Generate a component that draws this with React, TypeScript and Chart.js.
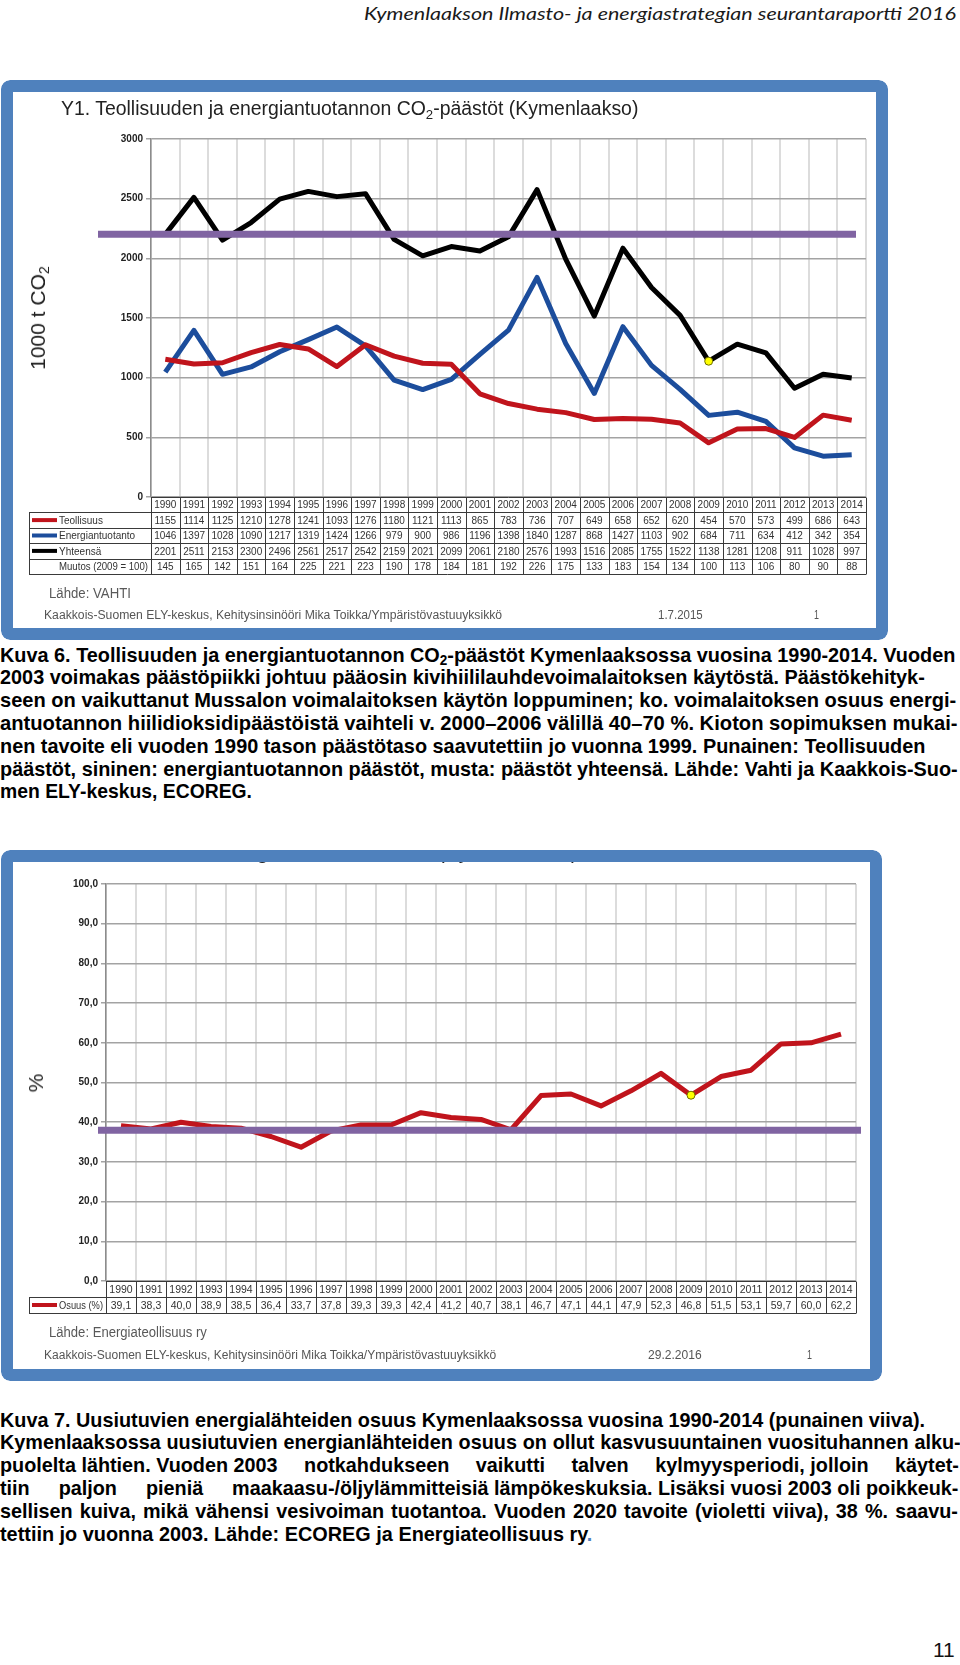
import React, { useEffect, useLayoutEffect, useRef } from "react";
import { Chart, registerables } from "chart.js";
Chart.register(...registerables);

// ---------- DATA ----------
const years = ["1990","1991","1992","1993","1994","1995","1996","1997","1998","1999","2000","2001","2002","2003","2004","2005","2006","2007","2008","2009","2010","2011","2012","2013","2014"];
const teollisuus = [1155,1114,1125,1210,1278,1241,1093,1276,1180,1121,1113,865,783,736,707,649,658,652,620,454,570,573,499,686,643];
const energiantuotanto = [1046,1397,1028,1090,1217,1319,1424,1266,979,900,986,1196,1398,1840,1287,868,1427,1103,902,684,711,634,412,342,354];
const yhteensa = [2201,2511,2153,2300,2496,2561,2517,2542,2159,2021,2099,2061,2180,2576,1993,1516,2085,1755,1522,1138,1281,1208,911,1028,997];
const muutos = [145,165,142,151,164,225,221,223,190,178,184,181,192,226,175,133,183,154,134,100,113,106,80,90,88];
const osuus = [39.1,38.3,40.0,38.9,38.5,36.4,33.7,37.8,39.3,39.3,42.4,41.2,40.7,38.1,46.7,47.1,44.1,47.9,52.3,46.8,51.5,53.1,59.7,60.0,62.2];
const co2Target = 2201;
const renewTarget = 38;
const co2Axis = { min: 0, max: 3000, step: 500 };
const shareAxis = { min: 0, max: 100, step: 10 };
const highlightYear = "2009";

// ---------- STYLE ----------
const BLUE_FRAME = "#4f81bd";
const RED = "#c0141c";
const BLUE = "#1c4d9c";
const PURPLE = "#8064a2";
const YELLOW = "#ffff00";
const SANS = '"Liberation Sans", Arial, Helvetica, sans-serif';
const NARROW = '"Liberation Sans Narrow", "Arial Narrow", "Liberation Sans", Arial, sans-serif';

const fmtComma = (v: number) => v.toFixed(1).replace(".", ",");

// ---------- PLUGINS ----------
const targetLinePlugin = {
  id: "targetLine",
  afterDatasetsDraw(chart: any, _a: any, opts: any) {
    const { ctx, chartArea } = chart;
    const y = chart.scales.y.getPixelForValue(opts.value);
    ctx.save();
    ctx.strokeStyle = opts.color;
    ctx.lineWidth = opts.width;
    ctx.beginPath();
    ctx.moveTo(chartArea.left + opts.start, y);
    ctx.lineTo(chartArea.right + opts.end, y);
    ctx.stroke();
    ctx.restore();
  },
};

const tablePlugin = {
  id: "dataTable",
  afterDraw(chart: any, _a: any, opts: any) {
    const { ctx, chartArea } = chart;
    const xs = chart.scales.x;
    const labels: string[] = chart.data.labels;
    const n = labels.length;
    const centers = labels.map((_: string, i: number) => xs.getPixelForValue(i));
    const colW = centers[1] - centers[0];
    const left = centers[0] - colW / 2;
    const right = centers[n - 1] + colW / 2;
    const top = chartArea.bottom;
    const rh = opts.rowHeight;
    const rows = opts.rows;
    const bottom = top + rh * (rows.length + 1);
    ctx.save();
    ctx.strokeStyle = opts.lineColor;
    ctx.lineWidth = 1;
    const hl = (x1: number, x2: number, y: number) => {
      const yy = Math.round(y) + 0.5;
      ctx.beginPath(); ctx.moveTo(x1, yy); ctx.lineTo(x2, yy); ctx.stroke();
    };
    const vl = (x: number, y1: number, y2: number) => {
      const xx = Math.round(x) + 0.5;
      ctx.beginPath(); ctx.moveTo(xx, Math.round(y1) + 0.5); ctx.lineTo(xx, Math.round(y2) + 0.5); ctx.stroke();
    };
    hl(left, right, top);
    for (let i = 1; i <= rows.length + 1; i++) hl(opts.labelLeft, right, top + i * rh);
    for (let j = 0; j <= n; j++) vl(left + j * colW, top, bottom);
    vl(opts.labelLeft, top + rh, bottom);

    ctx.fillStyle = opts.textColor;
    ctx.font = opts.font;
    ctx.textAlign = "center";
    ctx.textBaseline = "middle";
    labels.forEach((l: string, i: number) => ctx.fillText(l, centers[i], top + rh / 2 + 1));
    rows.forEach((r: any, k: number) => {
      const yc = top + rh * (k + 1) + rh / 2 + 1;
      ctx.textAlign = "center";
      r.values.forEach((v: number, i: number) => ctx.fillText(r.format ? r.format(v) : String(v), centers[i], yc));
      if (r.color) {
        ctx.save();
        ctx.strokeStyle = r.color;
        ctx.lineWidth = 4;
        ctx.beginPath();
        ctx.moveTo(opts.swatchLeft, yc - 1);
        ctx.lineTo(opts.swatchRight, yc - 1);
        ctx.stroke();
        ctx.restore();
      }
      ctx.textAlign = "left";
      ctx.fillText(r.label, opts.textLeft, yc, left - opts.textLeft - 3);
    });
    ctx.restore();
  },
};

function lineDs(label: string, data: number[], color: string, highlight = false) {
  return {
    label,
    data,
    borderColor: color,
    backgroundColor: color,
    borderWidth: 5,
    tension: 0,
    borderJoinStyle: "round",
    borderCapStyle: "butt",
    pointRadius: (c: any) => (highlight && years[c.dataIndex] === highlightYear ? 4 : 0),
    pointHoverRadius: 0,
    pointBackgroundColor: YELLOW,
    pointBorderColor: "#6e6e00",
    pointBorderWidth: 1,
  };
}

function makeScales(yAxisWidth: number, axis: { min: number; max: number; step: number }, fmt?: (v: number) => string) {
  return {
    x: {
      type: "category",
      offset: true,
      grid: { offset: true, color: "#dcdcdc", lineWidth: 2, drawTicks: false },
      border: { display: false },
      ticks: { display: false },
      afterFit: (s: any) => { s.height = 0; },
    },
    y: {
      min: axis.min,
      max: axis.max,
      ticks: {
        stepSize: axis.step,
        color: "#222",
        padding: 3,
        font: { family: SANS, size: 10, weight: "bold" },
        callback: (v: any) => (fmt ? fmt(Number(v)) : String(v)),
      },
      grid: { color: "#a3a3a3", lineWidth: 1.5, tickLength: 5 },
      border: { color: "#8c8c8c", width: 1.5 },
      afterFit: (s: any) => { s.width = yAxisWidth; },
    },
  };
}

const config1: any = {
  type: "line",
  data: {
    labels: years,
    datasets: [
      lineDs("Teollisuus", teollisuus, RED),
      lineDs("Energiantuotanto", energiantuotanto, BLUE),
      lineDs("Yhteensä", yhteensa, "#000000", true),
    ],
  },
  options: {
    responsive: false,
    animation: false,
    events: [],
    layout: { padding: { left: 0, right: 22, top: 59, bottom: 143 } },
    plugins: {
      legend: { display: false },
      tooltip: { enabled: false },
      targetLine: { value: co2Target, start: -53, end: -10, width: 7, color: PURPLE },
      dataTable: {
        rowHeight: 15.4,
        labelLeft: 28,
        swatchLeft: 31,
        swatchRight: 56,
        textLeft: 58,
        lineColor: "#3a3a3a",
        textColor: "#333",
        font: `10px ${SANS}`,
        rows: [
          { label: "Teollisuus", color: RED, values: teollisuus },
          { label: "Energiantuotanto", color: BLUE, values: energiantuotanto },
          { label: "Yhteensä", color: "#000", values: yhteensa },
          { label: "Muutos (2009 = 100)", values: muutos },
        ],
      },
    },
    scales: makeScales(150, co2Axis),
  },
  plugins: [targetLinePlugin, tablePlugin],
};

const config2: any = {
  type: "line",
  data: {
    labels: years,
    datasets: [lineDs("Osuus (%)", osuus, RED, true)],
  },
  options: {
    responsive: false,
    animation: false,
    events: [],
    layout: { padding: { left: 0, right: 26, top: 34, bottom: 100 } },
    plugins: {
      legend: { display: false },
      tooltip: { enabled: false },
      targetLine: { value: renewTarget, start: -8, end: 5, width: 7, color: PURPLE },
      dataTable: {
        rowHeight: 16,
        labelLeft: 28,
        swatchLeft: 31,
        swatchRight: 56,
        textLeft: 58,
        lineColor: "#3a3a3a",
        textColor: "#333",
        font: `10.5px ${SANS}`,
        rows: [{ label: "Osuus (%)", color: RED, values: osuus, format: fmtComma }],
      },
    },
    scales: makeScales(105, shareAxis, fmtComma),
  },
  plugins: [targetLinePlugin, tablePlugin],
};

// ---------- COMPONENTS ----------
function ChartCanvas({ width, height, config }: { width: number; height: number; config: any }) {
  const ref = useRef<HTMLCanvasElement>(null);
  useEffect(() => {
    const chart = new Chart(ref.current as HTMLCanvasElement, config);
    return () => chart.destroy();
  }, [config]);
  return (
    <canvas
      ref={ref}
      width={width}
      height={height}
      style={{ position: "absolute", left: 0, top: 0, width, height, zIndex: 0 }}
    />
  );
}

type FitProps = {
  x: number; y: number; w: number; size: number;
  font?: string; weight?: any; italic?: boolean; color?: string;
  children: React.ReactNode; lh?: number;
};

function Fit({ x, y, w, size, font = SANS, weight = "normal", italic = false, color = "#222", children, lh }: FitProps) {
  const ref = useRef<HTMLSpanElement>(null);
  const lineH = lh ?? size * 1.2;
  useLayoutEffect(() => {
    const fit = () => {
      const el = ref.current;
      if (!el) return;
      el.style.transform = "none";
      const nat = el.offsetWidth;
      if (nat > 0) el.style.transform = `scaleX(${w / nat})`;
    };
    fit();
    (document as any).fonts?.ready?.then(fit);
  }, [w]);
  return (
    <span
      ref={ref}
      style={{
        position: "absolute", left: x, top: y - lineH / 2, fontSize: size, lineHeight: `${lineH}px`,
        whiteSpace: "pre", transformOrigin: "0 50%", fontFamily: font, fontWeight: weight,
        fontStyle: italic ? "italic" : "normal", color, display: "inline-block", zIndex: 1,
      }}
    >
      {children}
    </span>
  );
}

// Justified line: groups separated by stretchable gaps. The horizontal
// condensation comes from a reference line (refText drawn at refW wide).
function Justify({ x, y, w, size, font, weight, color = "#000", groups, lh, refText, refW }: { x: number; y: number; w: number; size: number; font: string; weight: any; color?: string; groups: string[]; lh: number; refText: string; refW: number }) {
  const ref = useRef<HTMLDivElement>(null);
  const probe = useRef<HTMLSpanElement>(null);
  useLayoutEffect(() => {
    const fit = () => {
      const el = ref.current;
      const pr = probe.current;
      if (!el || !pr) return;
      el.style.transform = "none";
      const gaps = Array.from(el.querySelectorAll("[data-gap]")) as HTMLElement[];
      gaps.forEach((g) => (g.style.width = ""));
      const nat = el.offsetWidth;
      const gEls = Array.from(el.querySelectorAll("[data-g]")) as HTMLElement[];
      const sumG = gEls.reduce((a, g) => a + g.offsetWidth, 0);
      const spaceW = gaps.length ? gaps[0].offsetWidth : 0;
      let s = refW / pr.offsetWidth;
      if (nat * s > w) s = w / nat;
      if (gaps.length) {
        const gw = Math.max(spaceW, (w / s - sumG) / gaps.length);
        gaps.forEach((g) => (g.style.width = gw + "px"));
      }
      el.style.transform = `scaleX(${s})`;
    };
    fit();
    (document as any).fonts?.ready?.then(fit);
  }, [w]);
  const kids: React.ReactNode[] = [];
  groups.forEach((g, i) => {
    if (i > 0) kids.push(<span key={"s" + i} data-gap="1" style={{ display: "inline-block", whiteSpace: "pre" }}>{" "}</span>);
    kids.push(<span key={"g" + i} data-g="1" style={{ display: "inline-block", whiteSpace: "pre" }}>{g}</span>);
  });
  const common: React.CSSProperties = { fontSize: size, lineHeight: `${lh}px`, whiteSpace: "nowrap", fontFamily: font, fontWeight: weight };
  return (
    <>
      <span ref={probe} style={{ ...common, position: "absolute", left: 0, top: 0, visibility: "hidden", display: "inline-block" }}>{refText}</span>
      <div
        ref={ref}
        style={{ ...common, position: "absolute", left: x, top: y - lh / 2, transformOrigin: "0 50%", color, display: "inline-block" }}
      >
        {kids}
      </div>
    </>
  );
}

function Frame({ left, top, width, height, children }: { left: number; top: number; width: number; height: number; children: React.ReactNode }) {
  return (
    <div style={{ position: "absolute", left, top, width, height, overflow: "hidden", borderRadius: 9, background: "#fff" }}>
      {children}
      <div
        style={{
          position: "absolute", left: 0, top: 0, width, height, border: `12px solid ${BLUE_FRAME}`,
          borderRadius: 9, boxSizing: "border-box", zIndex: 10, pointerEvents: "none",
        }}
      />
    </div>
  );
}

const sub = (t: string) => (
  <span style={{ fontSize: "0.68em", position: "relative", top: "0.28em", lineHeight: 0 }}>{t}</span>
);

const CAP = { size: 20.5, lh: 22.8, font: NARROW, weight: "bold" as any };

const kuva6Lines: { text: React.ReactNode; w: number }[] = [
  { text: <>Kuva 6. Teollisuuden ja energiantuotannon CO{sub("2")}-päästöt Kymenlaaksossa vuosina 1990-2014. Vuoden</>, w: 955 },
  { text: "2003 voimakas päästöpiikki johtuu pääosin kivihiililauhdevoimalaitoksen käytöstä. Päästökehityk-", w: 925 },
  { text: "seen on vaikuttanut Mussalon voimalaitoksen käytön loppuminen; ko. voimalaitoksen osuus energi-", w: 956 },
  { text: "antuotannon hiilidioksidipäästöistä vaihteli v. 2000–2006 välillä 40–70 %. Kioton sopimuksen mukai-", w: 958 },
  { text: "nen tavoite eli vuoden 1990 tason päästötaso saavutettiin jo vuonna 1999. Punainen: Teollisuuden", w: 925 },
  { text: "päästöt, sininen: energiantuotannon päästöt, musta: päästöt yhteensä. Lähde: Vahti ja Kaakkois-Suo-", w: 958 },
  { text: "men ELY-keskus, ECOREG.", w: 252 },
];

const kuva7Line1 = "Kuva 7. Uusiutuvien energialähteiden osuus Kymenlaaksossa vuosina 1990-2014 (punainen viiva).";
const kuva7RefLine = "Kymenlaaksossa uusiutuvien energianlähteiden osuus on ollut kasvusuuntainen vuosituhannen alku-";
const kuva7Justified: string[][] = [
  kuva7RefLine.split(" "),
  ["puolelta lähtien. Vuoden 2003", "notkahdukseen", "vaikutti", "talven", "kylmyysperiodi, jolloin", "käytet-"],
  ["tiin", "paljon", "pieniä", "maakaasu-/öljylämmitteisiä lämpökeskuksia. Lisäksi vuosi 2003 oli poikkeuk-"],
  "sellisen kuiva, mikä vähensi vesivoiman tuotantoa. Vuoden 2020 tavoite (violetti viiva), 38 %. saavu-".split(" "),
];

export default function App() {
  const k6y0 = 655;
  const k7y0 = 1420;
  return (
    <div style={{ position: "absolute", left: 0, top: 0, width: 960, height: 1665, background: "#fff", overflow: "hidden" }}>
      <Fit x={364} y={14} w={592} size={18} font={'Lato, "Open Sans", sans-serif'} italic color="#1a1a1a">
        Kymenlaakson Ilmasto- ja energiastrategian seurantaraportti 2016
      </Fit>

      {/* Chart 1 */}
      <Frame left={1} top={80} width={887} height={560}>
        <ChartCanvas width={887} height={560} config={config1} />
        <Fit x={60} y={29} w={577} size={19.5} color="#222">
          Y1. Teollisuuden ja energiantuotannon CO{sub("2")}-päästöt (Kymenlaakso)
        </Fit>
        <div
          style={{
            position: "absolute", left: 37, top: 238, transform: "translate(-50%, -50%) rotate(-90deg)",
            whiteSpace: "nowrap", fontFamily: SANS, fontSize: 21, color: "#222", zIndex: 1,
          }}
        >
          1000 t CO{sub("2")}
        </div>
        <Fit x={48} y={513} w={82} size={14} color="#595959">Lähde: VAHTI</Fit>
        <Fit x={43} y={535} w={458} size={12.5} color="#555">
          Kaakkois-Suomen ELY-keskus, Kehitysinsinööri Mika Toikka/Ympäristövastuuyksikkö
        </Fit>
        <Fit x={657} y={535} w={45} size={12.5} color="#555">1.7.2015</Fit>
        <Fit x={813} y={535} w={5} size={12.5} color="#555">1</Fit>
      </Frame>

      {/* Caption 6 */}
      {kuva6Lines.map((l, i) => (
        <Fit key={i} x={0} y={k6y0 + i * CAP.lh} w={l.w} size={CAP.size} lh={CAP.lh} font={CAP.font} weight={CAP.weight} color="#000">
          {l.text}
        </Fit>
      ))}

      {/* Chart 2 */}
      <Frame left={1} top={850} width={881} height={531}>
        <ChartCanvas width={881} height={531} config={config2} />
        <Fit x={60} y={2.75} w={517} size={19.5} color="#222">
          Y2. Uusiutuvien energialähteiden osuus (Kymenlaakso)
        </Fit>
        <div
          style={{
            position: "absolute", left: 35, top: 233, transform: "translate(-50%, -50%) rotate(-90deg)",
            whiteSpace: "nowrap", fontFamily: SANS, fontSize: 21, color: "#222", zIndex: 1,
          }}
        >
          %
        </div>
        <Fit x={48} y={482} w={158} size={14} color="#595959">Lähde: Energiateollisuus ry</Fit>
        <Fit x={43} y={505} w={452} size={12.5} color="#555">
          Kaakkois-Suomen ELY-keskus, Kehitysinsinööri Mika Toikka/Ympäristövastuuyksikkö
        </Fit>
        <Fit x={647} y={505} w={54} size={12.5} color="#555">29.2.2016</Fit>
        <Fit x={806} y={505} w={5} size={12.5} color="#555">1</Fit>
      </Frame>

      {/* Caption 7 */}
      <Fit x={0} y={k7y0} w={925} size={CAP.size} lh={CAP.lh} font={CAP.font} weight={CAP.weight} color="#000">
        {kuva7Line1}
      </Fit>
      {kuva7Justified.map((g, i) => (
        <Justify key={i} x={0} y={k7y0 + (i + 1) * CAP.lh} w={958} size={CAP.size} lh={CAP.lh} font={CAP.font} weight={CAP.weight} groups={g} refText={kuva7RefLine} refW={958} />
      ))}
      <Fit x={0} y={k7y0 + 5 * CAP.lh} w={592} size={CAP.size} lh={CAP.lh} font={CAP.font} weight={CAP.weight} color="#000">
        tettiin jo vuonna 2003. Lähde: ECOREG ja Energiateollisuus ry<span style={{ color: BLUE_FRAME }}>.</span>
      </Fit>

      <Fit x={933} y={1650} w={22} size={20} color="#111">11</Fit>
    </div>
  );
}
